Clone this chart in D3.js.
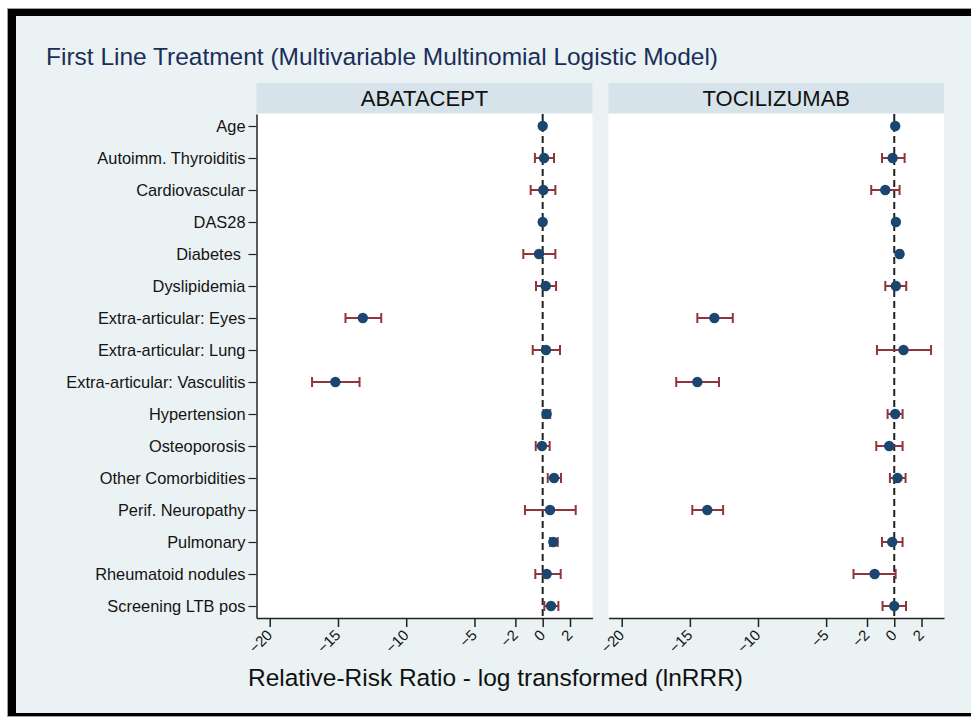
<!DOCTYPE html>
<html>
<head>
<meta charset="utf-8">
<script src="https://cdn.jsdelivr.net/npm/d3@7"></script>
<style>
  html, body { margin: 0; padding: 0; background: #ffffff; }
  svg { display: block; font-family: "Liberation Sans", Arial, sans-serif; }
</style>
</head>
<body>
<svg id="chart" width="971" height="717"></svg>
<script>
// ---- Data ----
const categories = [
  "Age", "Autoimm. Thyroiditis", "Cardiovascular", "DAS28", "Diabetes ",
  "Dyslipidemia", "Extra-articular: Eyes", "Extra-articular: Lung",
  "Extra-articular: Vasculitis", "Hypertension", "Osteoporosis",
  "Other Comorbidities", "Perif. Neuropathy", "Pulmonary",
  "Rheumatoid nodules", "Screening LTB pos"
];
const panels = ["ABATACEPT", "TOCILIZUMAB"];

const abaEst = [0.00, 0.10, 0.05, 0.00, -0.27, 0.22, -13.18, 0.24, -15.19, 0.29, -0.05, 0.83, 0.54, 0.78, 0.29, 0.61];
const abaLo  = [-0.05, -0.57, -0.88, -0.03, -1.42, -0.49, -14.45, -0.73, -16.90, 0.05, -0.51, 0.37, -1.30, 0.54, -0.54, 0.12];
const abaHi  = [0.05, 0.83, 0.93, 0.03, 0.93, 0.98, -11.83, 1.27, -13.42, 0.55, 0.51, 1.34, 2.42, 1.10, 1.32, 1.15];

const tocEst = [0.07, -0.12, -0.66, 0.12, 0.39, 0.12, -13.20, 0.68, -14.45, 0.07, -0.37, 0.24, -13.72, -0.15, -1.44, 0.00];
const tocLo  = [0.03, -0.90, -1.69, 0.09, 0.30, -0.66, -14.45, -1.27, -16.00, -0.49, -1.32, -0.32, -14.82, -0.90, -2.99, -0.86];
const tocHi  = [0.11, 0.76, 0.39, 0.15, 0.52, 0.88, -11.85, 2.70, -12.86, 0.61, 0.61, 0.83, -12.56, 0.61, 0.10, 0.86];

const xTicks = [-20, -15, -10, -5, -2, 0, 2];
const xDomain = [-20.97, 3.65];

const titleText = "First Line Treatment (Multivariable Multinomial Logistic Model)";
const xTitleText = "Relative-Risk Ratio - log transformed (lnRRR)";

// ---- Build ----
const series = [
  { name: panels[0], est: abaEst, lo: abaLo, hi: abaHi },
  { name: panels[1], est: tocEst, lo: tocLo, hi: tocHi }
];

const svg = d3.select("#chart");
const W = 971, H = 717;

const C = {
  bg: "#eaf2f3", strip: "#d6e3ea", title: "#1a2e5a",
  dot: "#1a476f", ci: "#90353b", axis: "#222222", text: "#141414"
};

// frame
svg.append("rect").attr("x", 7.5).attr("y", 8.5).attr("width", W).attr("height", 708)
  .attr("fill", "none").attr("stroke", "#a0a0a0").attr("stroke-width", 1);
svg.append("rect").attr("x", 8).attr("y", 9).attr("width", W - 8).attr("height", 707).attr("fill", "#000");
svg.append("rect").attr("x", 16).attr("y", 16).attr("width", W - 16).attr("height", 697).attr("fill", C.bg);

// title
svg.append("text").attr("x", 46).attr("y", 65)
  .attr("font-size", 24.5).attr("fill", C.title)
  .attr("textLength", 672).attr("lengthAdjust", "spacingAndGlyphs")
  .text(titleText);

const plotTop = 114, plotBottom = 618, stripTop = 83;
const panelX = [[256.5, 592.5], [608.5, 944]];

const y = d3.scalePoint().domain(categories).range([plotTop, plotBottom]).padding(0.375);

series.forEach((s, pi) => {
  const [x0, x1] = panelX[pi];
  const x = d3.scaleLinear().domain(xDomain).range([x0, x1]);
  const g = svg.append("g");

  // strip
  g.append("rect").attr("x", x0).attr("y", stripTop).attr("width", x1 - x0).attr("height", plotTop - stripTop - 1)
    .attr("fill", C.strip);
  g.append("text").attr("x", (x0 + x1) / 2).attr("y", 106).attr("text-anchor", "middle")
    .attr("font-size", 22).attr("fill", "#111").text(s.name);

  // plot region
  g.append("rect").attr("x", x0).attr("y", plotTop).attr("width", x1 - x0).attr("height", plotBottom - plotTop)
    .attr("fill", "#ffffff");

  // reference line at 0
  g.append("line").attr("x1", x(0)).attr("x2", x(0)).attr("y1", plotTop).attr("y2", plotBottom)
    .attr("stroke", "#222").attr("stroke-width", 2).attr("stroke-dasharray", "7,4");

  // x axis
  const xa = g.append("g").attr("transform", `translate(0,${plotBottom})`)
    .call(d3.axisBottom(x).tickValues(xTicks).tickSize(9).tickSizeOuter(0).tickFormat(d3.format("d")));
  xa.select(".domain").attr("stroke", C.axis).attr("stroke-width", 1.5);
  xa.selectAll(".tick line").attr("stroke", C.axis).attr("stroke-width", 1.5);
  xa.selectAll(".tick text")
    .attr("font-size", 15).attr("fill", C.text).attr("font-family", "Liberation Sans, Arial, sans-serif")
    .attr("text-anchor", "end").attr("y", 0).attr("dy", 0)
    .attr("transform", "translate(3,18) rotate(-45)");

  // y axis only on first panel
  if (pi === 0) {
    const ya = g.append("g").attr("transform", `translate(${x0},0)`)
      .call(d3.axisLeft(y).tickSize(8).tickSizeOuter(0).tickPadding(3));
    ya.select(".domain").attr("stroke", C.axis).attr("stroke-width", 1.5);
    ya.selectAll(".tick line").attr("stroke", C.axis).attr("stroke-width", 1.2);
    ya.selectAll(".tick text").attr("font-size", 16.4).attr("fill", C.text)
      .attr("font-family", "Liberation Sans, Arial, sans-serif")
      .style("white-space", "pre");
  }

  const rows = categories.map((c, i) => ({ c, est: s.est[i], lo: s.lo[i], hi: s.hi[i] }));

  // CI lines
  g.selectAll(".ci").data(rows).join("line")
    .attr("x1", d => x(d.lo)).attr("x2", d => x(d.hi))
    .attr("y1", d => y(d.c)).attr("y2", d => y(d.c))
    .attr("stroke", C.ci).attr("stroke-width", 2);
  ["lo", "hi"].forEach(k => {
    g.selectAll(".cap-" + k).data(rows).join("line")
      .attr("x1", d => x(d[k])).attr("x2", d => x(d[k]))
      .attr("y1", d => y(d.c) - 5).attr("y2", d => y(d.c) + 5)
      .attr("stroke", C.ci).attr("stroke-width", 2);
  });
  // points
  g.selectAll(".pt").data(rows).join("circle")
    .attr("cx", d => x(d.est)).attr("cy", d => y(d.c)).attr("r", 5.2)
    .attr("fill", C.dot);
});

// x-axis title
svg.append("text").attr("x", 248).attr("y", 686)
  .attr("font-size", 24.5).attr("fill", "#111")
  .attr("textLength", 495).attr("lengthAdjust", "spacingAndGlyphs")
  .text(xTitleText);
</script>
</body>
</html>
